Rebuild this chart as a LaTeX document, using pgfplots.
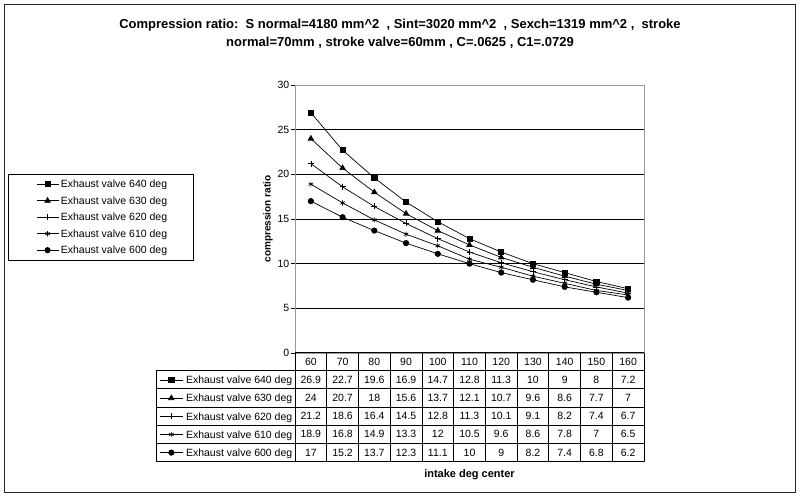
\documentclass[border=0pt]{standalone}
\usepackage{fontspec}
\setmainfont{Liberation Sans}
\usepackage{pgfplots}
\usepackage{pgfplotstable}
\pgfplotsset{compat=1.18}

\pgfplotstableread{
x   e640 e630 e620 e610 e600
60  26.9 24   21.2 18.9 17
70  22.7 20.7 18.6 16.8 15.2
80  19.6 18   16.4 14.9 13.7
90  16.9 15.6 14.5 13.3 12.3
100 14.7 13.7 12.8 12   11.1
110 12.8 12.1 11.3 10.5 10
120 11.3 10.7 10.1 9.6  9
130 10   9.6  9.1  8.6  8.2
140 9    8.6  8.2  7.8  7.4
150 8    7.7  7.4  7    6.8
160 7.2  7    6.7  6.5  6.2
}\datatable

\newcommand{\tabfont}{\fontsize{10.5}{12}\selectfont}

\pgfplotsset{
  mystyle640/.style={black, line width=0.7pt, mark=square*, mark size=2.6pt, mark options={solid, fill=black}},
  mystyle630/.style={black, line width=0.7pt, mark=triangle*, mark size=3.1pt, mark options={solid, fill=black}},
  mystyle620/.style={black, line width=0.7pt, mark=+, mark size=3pt, mark options={solid}},
  mystyle610/.style={black, line width=0.7pt, mark=asterisk, mark size=2.6pt, mark options={solid}},
  mystyle600/.style={black, line width=0.7pt, mark=*, mark size=2.7pt, mark options={solid, fill=black}},
}

\begin{document}
\begin{tikzpicture}
\path[use as bounding box] (0pt,0pt) rectangle (800pt,-497pt);
\begin{scope}[x=1pt,y=-1pt]
  \fill[white] (0,0) rectangle (800,497);
  \draw[line width=0.9pt, black!85] (4,4) rectangle (795,492);
  \draw[line width=0.8pt] (8,174) rectangle (193,260);
\end{scope}

\begin{axis}[
  at={(295pt,-353pt)}, anchor=south west,
  scale only axis, width=349pt, height=268pt,
  xmin=55, xmax=165, ymin=0, ymax=30,
  xtick=\empty, ytick={0,5,...,30},
  ytick pos=left, tick align=outside, major tick length=4pt,
  tick style={black, line width=0.6pt},
  ymajorgrids, grid style={black, line width=0.7pt},
  axis line style={draw=gray!80, line width=0.8pt},
  yticklabel style={font=\tabfont, inner sep=1.5pt},
  /pgf/number format/assume math mode=true,
  ylabel={compression ratio},
  ylabel style={font=\bfseries\fontsize{10}{12}\selectfont},
  legend style={at={(axis description cs:-0.74212,0.64459)}, anchor=north west, draw=none, fill=none,
    inner sep=0pt, font=\tabfont, row sep=9pt, column sep=2pt,
    nodes={inner sep=0pt, text height=7.5pt, text depth=0pt}},
  legend cell align=left,
  legend image code/.code={\draw[mark repeat=2, mark phase=2, #1] plot coordinates {(0pt,0pt) (11pt,0pt) (22pt,0pt)};},
]
\addplot[mystyle640] table[x=x, y=e640]{\datatable};
\addlegendentry{Exhaust valve 640 deg}
\addplot[mystyle630] table[x=x, y=e630]{\datatable};
\addlegendentry{Exhaust valve 630 deg}
\addplot[mystyle620] table[x=x, y=e620]{\datatable};
\addlegendentry{Exhaust valve 620 deg}
\addplot[mystyle610] table[x=x, y=e610]{\datatable};
\addlegendentry{Exhaust valve 610 deg}
\addplot[mystyle600] table[x=x, y=e600]{\datatable};
\addlegendentry{Exhaust valve 600 deg}
\end{axis}

% row headers of the data table (legend keys)
\begin{axis}[
  at={(295pt,-353pt)}, anchor=south west,
  scale only axis, width=349pt, height=268pt,
  xmin=55, xmax=165, ymin=0, ymax=30, hide axis,
  legend style={at={(axis description cs:-0.38968,-0.08582)}, anchor=north west, draw=none, fill=none,
    inner sep=0pt, font=\tabfont, row sep=10.67pt, column sep=2.5pt,
    nodes={inner sep=0pt, text height=7.5pt, text depth=0pt}},
  legend cell align=left,
  legend image code/.code={\draw[mark repeat=2, mark phase=2, #1] plot coordinates {(0pt,0pt) (11.8pt,0pt) (23.6pt,0pt)};},
]
\addlegendimage{mystyle640}\addlegendentry{Exhaust valve 640 deg}
\addlegendimage{mystyle630}\addlegendentry{Exhaust valve 630 deg}
\addlegendimage{mystyle620}\addlegendentry{Exhaust valve 620 deg}
\addlegendimage{mystyle610}\addlegendentry{Exhaust valve 610 deg}
\addlegendimage{mystyle600}\addlegendentry{Exhaust valve 600 deg}
\end{axis}

\begin{scope}[x=1pt,y=-1pt]
  % data table grid
  \def\cw{31.7273}
  \def\rh{18.1667}
  \draw[line width=0.8pt] (295,352.5) -- (644,352.5);
  \foreach \k in {1,...,6} {
    \draw[line width=0.8pt] (156,{352.5+\k*\rh}) -- (644,{352.5+\k*\rh});
  }
  \foreach \k in {0,...,11} {
    \draw[line width=0.8pt] ({295+\k*\cw},352.5) -- ({295+\k*\cw},461.5);
  }
  \draw[line width=0.8pt] (156,{352.5+\rh}) -- (156,461.5);
  % header row
  \foreach \c in {0,...,10} {
    \pgfplotstablegetelem{\c}{x}\of\datatable
    \node[font=\tabfont, inner sep=0pt] at ({295+(\c+0.5)*\cw},{352.5+0.5*\rh}) {\pgfplotsretval};
  }
  % values
  \foreach \col [count=\r] in {e640,e630,e620,e610,e600} {
    \foreach \c in {0,...,10} {
      \pgfplotstablegetelem{\c}{\col}\of\datatable
      \node[font=\tabfont, inner sep=0pt] at ({295+(\c+0.5)*\cw},{352.5+(\r+0.5)*\rh}) {\pgfplotsretval};
    }
  }
  % titles
  \node[font=\bfseries\fontsize{13}{15}\selectfont] at (400,25)
    {Compression ratio:\ \ S normal=4180 mm\textasciicircum 2\ \ , Sint=3020 mm\textasciicircum 2\ \ , Sexch=1319 mm\textasciicircum 2 ,\ \ stroke};
  \node[font=\bfseries\fontsize{13}{15}\selectfont] at (400,43)
    {normal=70mm , stroke valve=60mm , C=.0625 , C1=.0729};
  \node[font=\bfseries\fontsize{11}{13}\selectfont] at (469.5,475) {intake deg center};
\end{scope}
\end{tikzpicture}
\end{document}
